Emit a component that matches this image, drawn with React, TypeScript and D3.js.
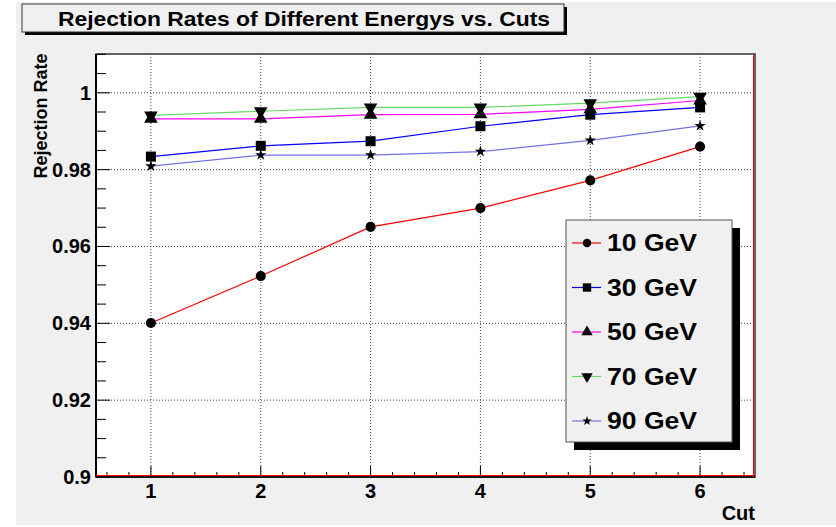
import React from 'react'
import * as d3 from 'd3'

const cuts = [1, 2, 3, 4, 5, 6]
const labels = ['10 GeV', '30 GeV', '50 GeV', '70 GeV', '90 GeV']
const rate10 = [0.9401, 0.9523, 0.9651, 0.9700, 0.9772, 0.9860]
const rate30 = [0.9834, 0.9862, 0.9874, 0.9913, 0.9943, 0.9962]
const rate50 = [0.9932, 0.9932, 0.9943, 0.9944, 0.9957, 0.9980]
const rate70 = [0.9941, 0.9952, 0.9962, 0.9962, 0.9973, 0.9990]
const rate90 = [0.9809, 0.9838, 0.9838, 0.9847, 0.9876, 0.9914]
const colors = ['#ff0000', '#0000ff', '#ff00ff', '#66d966', '#7373e6']
const yTicks = [0.9, 0.92, 0.94, 0.96, 0.98, 1.0]

const series = [rate10, rate30, rate50, rate70, rate90]

const W = 836, H = 527
const frame = {left: 96, right: 755, top: 54, bottom: 477}

const font = '"Liberation Sans", Arial, Helvetica, sans-serif'

// marker shape per series (ROOT style 20, 21, 22, 23, 29)
const markerPath = (i: number, scale = 1): string => {
	const sym = [d3.symbolCircle, d3.symbolSquare, d3.symbolTriangle, d3.symbolTriangle, d3.symbolStar][i]
	const size = [80, 100, 80, 80, 40][i] * scale
	return d3.symbol(sym, size)() as string
}

const Marker = ({i, x, y, scale = 1}: {i: number, x: number, y: number, scale?: number}) => (
	<path d={markerPath(i, scale)} fill="black"
		transform={`translate(${x},${y})${i === 3 ? ' rotate(180)' : ''}`} />
)

export default function App() {
	const x = d3.scaleLinear().domain([0.5, 6.5]).range([frame.left, frame.right])
	const y = d3.scaleLinear().domain([0.9, 1.0101]).range([frame.bottom, frame.top])

	const line = (vals: number[]) => d3.line<number>()
		.x((d, k) => x(cuts[k]))
		.y(d => y(d))(vals) as string

	const yMinor = d3.range(0.905, 1.0101, 0.005).filter(v => Math.abs((v - 0.9) / 0.02 - Math.round((v - 0.9) / 0.02)) > 0.01)
	const xMinor = d3.range(0.6, 6.45, 0.2).filter(v => Math.abs(v - Math.round(v)) > 0.01)

	const legend = {x: 566, y: 220, w: 166, h: 222}

	return (
		<div style={{position: 'absolute', left: 0, top: 0}}>
			<svg width={W} height={H} style={{display: 'block'}} fontFamily={font}>
				<rect x={0} y={0} width={W} height={H} fill="white" />
				<rect x={16} y={2} width={W - 16} height={523} fill="#f0f0f0" />

				{/* title box */}
				<rect x={25} y={7} width={542} height={28} fill="black" />
				<rect x={22} y={4} width={542} height={28} fill="#f0f0f0" stroke="#333" strokeWidth={1} />
				<text x={58} y={26} fontSize={21} fontWeight="bold" textLength={492} lengthAdjust="spacingAndGlyphs">Rejection Rates of Different Energys vs. Cuts</text>

				{/* frame */}
				<rect x={frame.left} y={frame.top} width={frame.right - frame.left} height={frame.bottom - frame.top}
					fill="white" stroke="#333" strokeWidth={1.5} />

				{/* grid */}
				{cuts.map(c => (
					<line key={'gx' + c} x1={x(c)} x2={x(c)} y1={frame.top} y2={frame.bottom}
						stroke="#444" strokeDasharray="1 2" strokeWidth={1} />
				))}
				{yTicks.slice(1).map(t => (
					<line key={'gy' + t} x1={frame.left} x2={frame.right} y1={y(t)} y2={y(t)}
						stroke="#444" strokeDasharray="1 2" strokeWidth={1} />
				))}

				{/* y axis ticks */}
				{yTicks.map(t => (
					<g key={'yt' + t}>
						<line x1={frame.left} x2={frame.left + 14} y1={y(t)} y2={y(t)} stroke="black" />
						<text x={91} y={y(t) + 7} textAnchor="end" fontSize={20} fontWeight="bold">{d3.format('~g')(t)}</text>
					</g>
				))}
				{yMinor.map(t => (
					<line key={'ym' + t} x1={frame.left} x2={frame.left + 10} y1={y(t)} y2={y(t)} stroke="black" />
				))}

				{/* x axis ticks */}
				{cuts.map(c => (
					<g key={'xt' + c}>
						<line x1={x(c)} x2={x(c)} y1={frame.bottom} y2={frame.bottom - 11} stroke="black" />
						<text x={x(c)} y={498} textAnchor="middle" fontSize={20} fontWeight="bold">{c}</text>
					</g>
				))}
				{xMinor.map(c => (
					<line key={'xm' + c} x1={x(c)} x2={x(c)} y1={frame.bottom} y2={frame.bottom - 5} stroke="black" />
				))}

				{/* axis lines */}
				<line x1={frame.left} x2={frame.left} y1={frame.top} y2={frame.bottom} stroke="black" strokeWidth={2} />
				<line x1={frame.left} x2={frame.right} y1={frame.bottom} y2={frame.bottom} stroke="black" strokeWidth={1.5} />
				<line x1={frame.left} x2={frame.right - 1} y1={frame.bottom - 1.5} y2={frame.bottom - 1.5} stroke="#ff0000" strokeWidth={1} />
				<line x1={frame.right - 1.5} x2={frame.right - 1.5} y1={frame.top + 1} y2={frame.bottom} stroke="#ff0000" strokeWidth={1} />

				{/* axis titles */}
				<text transform={`translate(47,${116}) rotate(-90)`} textAnchor="middle" fontSize={18} fontWeight="bold">Rejection Rate</text>
				<text x={755} y={520} textAnchor="end" fontSize={20} fontWeight="bold">Cut</text>

				{/* series */}
				{series.map((vals, i) => (
					<path key={'l' + i} d={line(vals)} fill="none" stroke={colors[i]} strokeWidth={1.2} />
				))}
				{series.map((vals, i) => vals.map((v, k) => (
					<Marker key={'m' + i + '_' + k} i={i} x={x(cuts[k])} y={y(v)} />
				)))}

				{/* legend */}
				<rect x={legend.x + 8} y={legend.y + 8} width={legend.w} height={legend.h} fill="black" />
				<rect x={legend.x} y={legend.y} width={legend.w} height={legend.h} fill="#f0f0f0" stroke="#555" strokeWidth={1} />
				{labels.map((lab, i) => {
					const ly = legend.y + 23 + i * 44.5
					return (
						<g key={'lg' + i}>
							<line x1={572} x2={601} y1={ly} y2={ly} stroke={colors[i]} strokeWidth={1.2} />
							<Marker i={i} x={587} y={ly} scale={0.7} />
							<text x={607} y={ly + 8} fontSize={23} fontWeight="bold" textLength={90} lengthAdjust="spacingAndGlyphs">{lab}</text>
						</g>
					)
				})}
			</svg>
		</div>
	)
}
